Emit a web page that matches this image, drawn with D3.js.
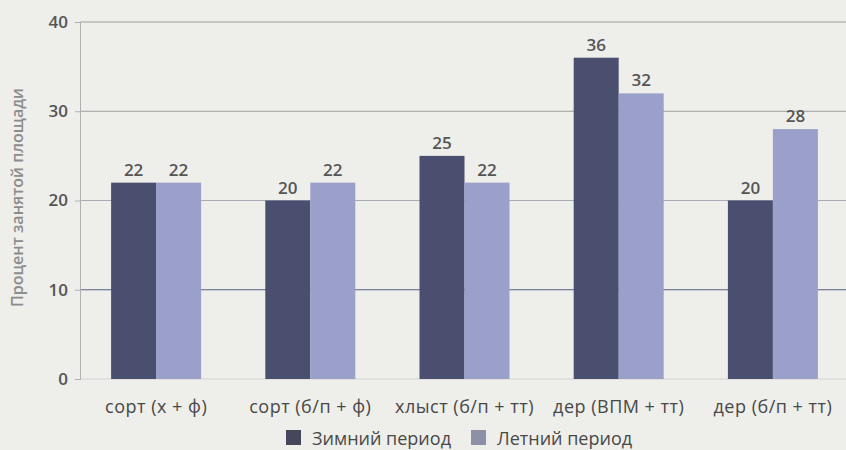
<!DOCTYPE html>
<html>
<head>
<meta charset="utf-8">
<script src="https://cdn.jsdelivr.net/npm/d3@7"></script>
<style>
  html, body { margin: 0; padding: 0; background: #eeeeea; }
  svg { display: block; font-family: "Open Sans", Lato, sans-serif; }
</style>
</head>
<body>
<svg id="chart" width="846" height="450"></svg>
<script>
// Share of occupied area by storage type, winter vs summer
const categories = ["сорт (х + ф)", "сорт (б/п + ф)", "хлыст (б/п + тт)", "дер (ВПМ + тт)", "дер (б/п + тт)"];
const winter = [22, 20, 25, 36, 20];
const summer = [22, 22, 22, 32, 28];
const seriesNames = ["Зимний период", "Летний период"];
const yTicks = [0, 10, 20, 30, 40];

const colors = ["#4b4f6f", "#9aa0c9"];

const svg = d3.select("#chart");
const W = 846, H = 450;
const m = { left: 80, right: -4, top: 22, bottom: 71 };

const x = d3.scaleBand().domain(categories).range([m.left - 1, W - m.right]).paddingInner(0).paddingOuter(0);
const y = d3.scaleLinear().domain([0, 40]).range([H - m.bottom, m.top]);
const barW = 45;

// gridlines
svg.append("g").selectAll("line").data(yTicks.filter(d => d > 0)).join("line")
  .attr("x1", m.left).attr("x2", W)
  .attr("y1", d => y(d)).attr("y2", d => y(d))
  .attr("stroke", d => d === 10 ? "#5a5e86" : (d === 20 ? "#a9abb8" : "#9c9c9c"))
  .attr("stroke-width", 1);

// baseline
svg.append("line").attr("x1", m.left).attr("x2", W).attr("y1", y(0)).attr("y2", y(0))
  .attr("stroke", "#d2d2d2").attr("stroke-width", 1);

// y axis
const yAxis = d3.axisLeft(y).tickValues(yTicks).tickSize(5).tickPadding(7);
const gy = svg.append("g").attr("transform", `translate(${m.left},0)`).call(yAxis);
gy.select(".domain").attr("stroke", "#b0b0b0");
gy.selectAll(".tick line").attr("stroke", "#b0b0b0");
gy.selectAll(".tick text").attr("fill", "#555").attr("font-size", 17).attr("font-weight", 600)
  .attr("font-family", "'Open Sans', sans-serif");

// y axis title
svg.append("text")
  .attr("transform", `translate(23,${(y(0) + y(40)) / 2 - 3}) rotate(-90)`)
  .attr("text-anchor", "middle").attr("font-size", 16).attr("font-weight", 600)
  .attr("fill", "#8c8c8c").text("Процент занятой площади");

// bars
const groups = svg.append("g").selectAll("g").data(categories).join("g")
  .attr("transform", d => `translate(${x(d) + x.bandwidth() / 2},0)`);

groups.each(function(cat, i) {
  const g = d3.select(this);
  const v = [winter[i], summer[i]];
  g.selectAll("rect").data(v).join("rect")
    .attr("x", (d, j) => j === 0 ? -barW : 0)
    .attr("width", barW)
    .attr("y", d => y(d))
    .attr("height", d => y(0) - y(d))
    .attr("fill", (d, j) => colors[j]);
  g.selectAll("text.val").data(v).join("text").attr("class", "val")
    .attr("x", (d, j) => j === 0 ? -barW / 2 : barW / 2)
    .attr("y", d => y(d) - 7)
    .attr("text-anchor", "middle").attr("font-size", 17).attr("font-weight", 600)
    .attr("fill", "#555").text(d => d);
});

// category labels
const xAxis = d3.axisBottom(x).tickSize(0).tickPadding(21);
const gx = svg.append("g").attr("transform", `translate(0,${y(0)})`).call(xAxis);
gx.select(".domain").remove();
gx.selectAll(".tick text").attr("fill", "#484848").attr("font-size", 18)
  .attr("font-family", "'Open Sans', sans-serif").attr("letter-spacing", 0.5);

// legend
const legend = svg.append("g").attr("transform", "translate(286,430)");
const items = [{ x: 0, name: seriesNames[0], c: "#45475a" }, { x: 185, name: seriesNames[1], c: "#8e90a8" }];
items.forEach(it => {
  legend.append("rect").attr("x", it.x).attr("y", 0).attr("width", 15).attr("height", 15).attr("fill", it.c);
  legend.append("text").attr("x", it.x + 26).attr("y", 15).attr("font-size", 18)
    .attr("fill", "#484848").text(it.name);
});
</script>
</body>
</html>
